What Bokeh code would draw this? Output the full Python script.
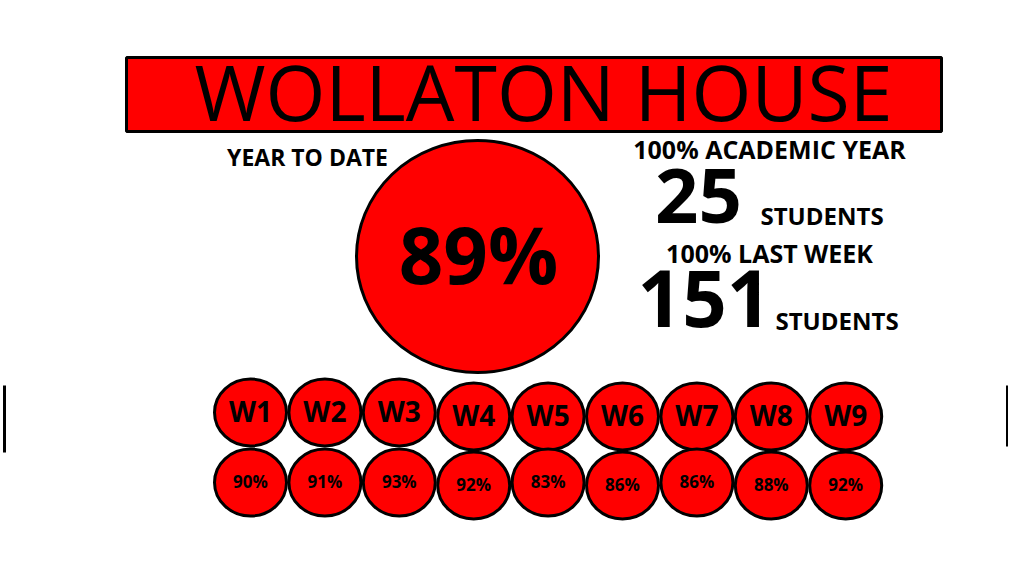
from bokeh.plotting import figure
from bokeh.models import Range1d
from bokeh.core.properties import value
from bokeh.embed import file_html
from bokeh.resources import INLINE

house = "WOLLATON HOUSE"
year_to_date = 89
academic_year_students = 25
last_week_students = 151
weeks = ["W1", "W2", "W3", "W4", "W5", "W6", "W7", "W8", "W9"]
week_pct = [90, 91, 93, 92, 83, 86, 86, 88, 92]

FONT = value("Open Sans")
RED = "#ff0000"

# canvas in page pixels (y reversed so it reads like the picture)
p = figure(width=1008, height=560, output_backend="svg", toolbar_location=None,
           x_range=Range1d(0, 1008), y_range=Range1d(560, 0),
           min_border=0, outline_line_color=None, background_fill_color="white")
p.axis.visible = False
p.grid.visible = False

# title banner
p.rect(x=[533.5], y=[94], width=[815], height=[74], fill_color=RED, line_color="black", line_width=3)
p.text(x=[543], y=[91], text=[house], text_font=FONT, text_font_size="77px",
       text_align="center", text_baseline="middle", text_color="black")

# year to date
p.text(x=[307], y=[156], text=["YEAR TO DATE"], text_font=FONT, text_font_size="23px",
       text_font_style="bold", text_align="center", text_baseline="middle")
p.ellipse(x=[477], y=[256], width=[242], height=[232], fill_color=RED, line_color="black", line_width=3)
p.text(x=[478], y=[253], text=["%d%%" % year_to_date], text_font=FONT, text_font_size="78px",
       text_font_style="bold", text_align="center", text_baseline="middle")

# 100% counts
p.text(x=[769], y=[148], text=["100% ACADEMIC YEAR"], text_font=FONT, text_font_size="25px",
       text_font_style="bold", text_align="center", text_baseline="middle")
p.text(x=[698], y=[195], text=[str(academic_year_students)], text_font=FONT, text_font_size="76px",
       text_font_style="bold", text_align="center", text_baseline="middle")
p.text(x=[760], y=[215], text=["STUDENTS"], text_font=FONT, text_font_size="24px",
       text_font_style="bold", text_align="left", text_baseline="middle")
p.text(x=[769], y=[252], text=["100% LAST WEEK"], text_font=FONT, text_font_size="25px",
       text_font_style="bold", text_align="center", text_baseline="middle")
p.text(x=[704], y=[298], text=[str(last_week_students)], text_font=FONT, text_font_size="78px",
       text_font_style="bold", text_align="center", text_baseline="middle")
p.text(x=[775], y=[320], text=["STUDENTS"], text_font=FONT, text_font_size="24px",
       text_font_style="bold", text_align="left", text_baseline="middle")

# weekly circles
xs = [250 + i * 74.4 for i in range(len(weeks))]
row1 = [412 if i < 3 else 416 for i in range(len(weeks))]
row2 = [482 if i in (0, 1, 2, 4, 6) else 485 for i in range(len(weeks))]
p.ellipse(x=xs, y=row1, width=72, height=67, fill_color=RED, line_color="black", line_width=3)
p.ellipse(x=xs, y=row2, width=72, height=67, fill_color=RED, line_color="black", line_width=3)
p.text(x=xs, y=[v - 2 for v in row1], text=weeks, text_font=FONT, text_font_size="28px",
       text_font_style="bold", text_align="center", text_baseline="middle")
p.text(x=xs, y=[v - 1 for v in row2], text=["%d%%" % v for v in week_pct], text_font=FONT,
       text_font_size="17px", text_font_style="bold", text_align="center", text_baseline="middle")

# side marks
p.segment(x0=[4, 1007], y0=[385, 385], x1=[4, 1007], y1=[452, 446], line_color="black", line_width=3)

open("out.html", "w").write(file_html(p, INLINE))
